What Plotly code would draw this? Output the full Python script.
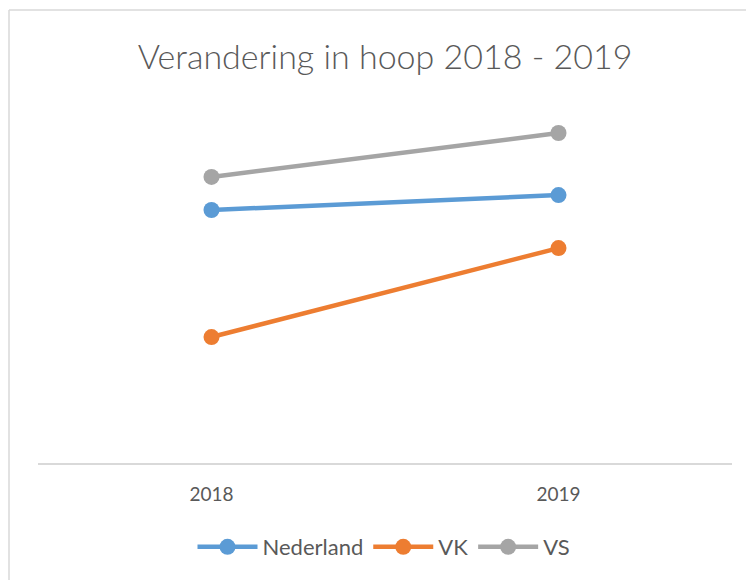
import plotly.graph_objects as go

years = ["2018", "2019"]
nederland = [6.97, 7.38]
vk = [3.47, 5.92]
vs = [7.88, 9.09]

series = [("Nederland", nederland, "#5b9bd5"), ("VK", vk, "#ed7d31"), ("VS", vs, "#a5a5a5")]

fig = go.Figure()
for name, vals, col in series:
    fig.add_trace(go.Scatter(x=years, y=vals, name=name, mode="lines+markers",
                             line=dict(color=col, width=4.5),
                             marker=dict(color=col, size=16)))

W, H = 746, 572
fig.update_layout(
    width=W, height=H,
    margin=dict(l=30, r=22, t=92, b=117, autoexpand=False),
    paper_bgcolor="white", plot_bgcolor="white",
    font=dict(family="Lato", color="#595959"),
    title=dict(text="Verandering in hoop 2018 - 2019", x=(385 - 8) / W, xanchor="center",
               yref="container", y=1 - 49 / H, yanchor="middle",
               font=dict(size=34, color="#595959", family="Lato", weight=300)),
    xaxis=dict(showline=True, linecolor="#d9d9d9", linewidth=1.5, showgrid=False,
               range=[-0.5, 1.5], automargin=False,
               ticks="", tickfont=dict(size=19, color="#595959"), fixedrange=True,
               ticklabelstandoff=13),
    yaxis=dict(range=[0, 10], visible=False, showgrid=False, automargin=False),
    legend=dict(orientation="h", x=(384 - 8 - 30) / 694, xanchor="center", yref="container",
                y=1 - 539 / H, yanchor="middle", itemwidth=60,
                font=dict(size=22, color="#595959")),
    showlegend=True,
)
bx0 = (9 - 38) / 694
bx1 = (780 - 38) / 694
by0 = (463 - 600) / 363
by1 = (463 - 10) / 363
fig.add_shape(type="line", xref="paper", yref="paper", x0=bx0, x1=bx1, y0=by1, y1=by1,
              line=dict(color="#d9d9d9", width=1.5), layer="below")
fig.add_shape(type="line", xref="paper", yref="paper", x0=bx0, x1=bx0, y0=by0, y1=by1,
              line=dict(color="#d9d9d9", width=1.5), layer="below")
fig.write_html("out.html")
